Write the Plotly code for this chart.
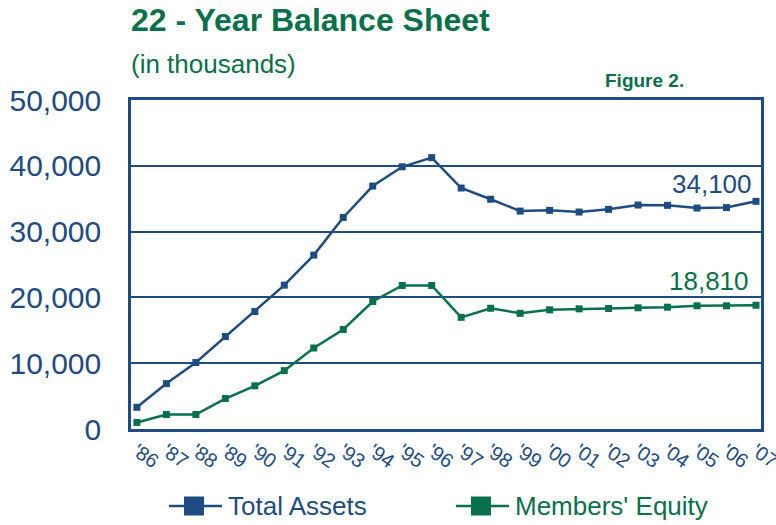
import plotly.graph_objects as go

years = ["'86", "'87", "'88", "'89", "'90", "'91", "'92", "'93", "'94", "'95", "'96",
         "'97", "'98", "'99", "'00", "'01", "'02", "'03", "'04", "'05", "'06", "'07"]
total_assets = [3300, 6900, 10100, 14050, 17850, 21860, 26430, 32150, 36920, 39850, 41240,
                36620, 34920, 33120, 33230, 32970, 33380, 34040, 33990, 33580, 33650, 34600]
members_equity = [1000, 2200, 2200, 4630, 6560, 8870, 12310, 15120, 19380, 21810, 21810,
                  16970, 18350, 17580, 18110, 18260, 18310, 18420, 18510, 18720, 18720, 18810]
y_ticks = [0, 10000, 20000, 30000, 40000, 50000]
series_names = ["Total Assets", "Members' Equity"]

NAVY = "#1D4B82"
GREEN = "#08704A"
FONT = "Liberation Sans, Arial, sans-serif"

L, R, T, B = 131, 761, 100, 429
W, H = 776, 525

def px(x):
    return (x - L) / (R - L)

def py(y):
    return (B - y) / (B - T)

fig = go.Figure()
fig.add_trace(go.Scatter(x=years, y=total_assets, name=series_names[0], mode="lines+markers",
                         line=dict(color=NAVY, width=2.5),
                         marker=dict(symbol="square", size=7, color=NAVY)))
fig.add_trace(go.Scatter(x=years, y=members_equity, name=series_names[1], mode="lines+markers",
                         line=dict(color=GREEN, width=2.5),
                         marker=dict(symbol="square", size=7, color=GREEN)))

fig.update_layout(
    width=W, height=H,
    margin=dict(l=L, r=W - R, t=T, b=H - B, autoexpand=False),
    paper_bgcolor="white", plot_bgcolor="white",
    font=dict(family=FONT, color=NAVY),
    showlegend=False,
    xaxis=dict(type="category", range=[-0.2, 21.17], showgrid=False, automargin=False,
               showline=True, linecolor=NAVY, linewidth=2.5, mirror=True,
               tickangle=35, tickfont=dict(size=20, color=NAVY, family=FONT),
               ticks="", ticklabelstandoff=0),
    yaxis=dict(range=[0, 50000], tickvals=y_ticks, tickformat=",d", automargin=False,
               showgrid=True, gridcolor=NAVY, gridwidth=2,
               showline=True, linecolor=NAVY, linewidth=2.5, mirror=True,
               zeroline=False,
               tickfont=dict(size=30, color=NAVY, family=FONT),
               ticks="", ticklabelstandoff=21),
)

annotations = [
    dict(text="<b>22 - Year Balance Sheet</b>", x=px(129), y=py(20), xanchor="left", yanchor="middle",
         font=dict(size=32, color=GREEN, family=FONT)),
    dict(text="(in thousands)", x=px(129), y=py(64), xanchor="left", yanchor="middle",
         font=dict(size=26, color=GREEN, family=FONT)),
    dict(text="<b>Figure 2.</b>", x=px(603), y=py(80), xanchor="left", yanchor="middle",
         font=dict(size=19, color=GREEN, family=FONT)),
    dict(text="34,100", x=px(754), y=py(184), xanchor="right", yanchor="middle",
         font=dict(size=26, color=NAVY, family=FONT)),
    dict(text="18,810", x=px(751), y=py(281), xanchor="right", yanchor="middle",
         font=dict(size=26, color=GREEN, family=FONT)),
]

# legend drawn as decoration (line + square + label)
legend_items = [(series_names[0], NAVY, 169), (series_names[1], GREEN, 456)]
LEG_Y = 506
for name, col, x0 in legend_items:
    fig.add_shape(type="line", xref="paper", yref="paper",
                  x0=px(x0), x1=px(x0 + 53), y0=py(LEG_Y), y1=py(LEG_Y),
                  line=dict(color=col, width=2.5))
    fig.add_shape(type="rect", xref="paper", yref="paper",
                  x0=px(x0 + 15), x1=px(x0 + 35), y0=py(LEG_Y - 9.5), y1=py(LEG_Y + 9.5),
                  line=dict(width=0), fillcolor=col)
    annotations.append(dict(text=name, x=px(x0 + 57), y=py(LEG_Y), xanchor="left", yanchor="middle",
                            font=dict(size=26, color=col, family=FONT)))

for a in annotations:
    a.update(xref="paper", yref="paper", showarrow=False)
    fig.add_annotation(**a)

fig.write_html("out.html", config={"displayModeBar": False},
               post_script="document.body.style.margin='0';document.body.style.overflow='hidden';")
